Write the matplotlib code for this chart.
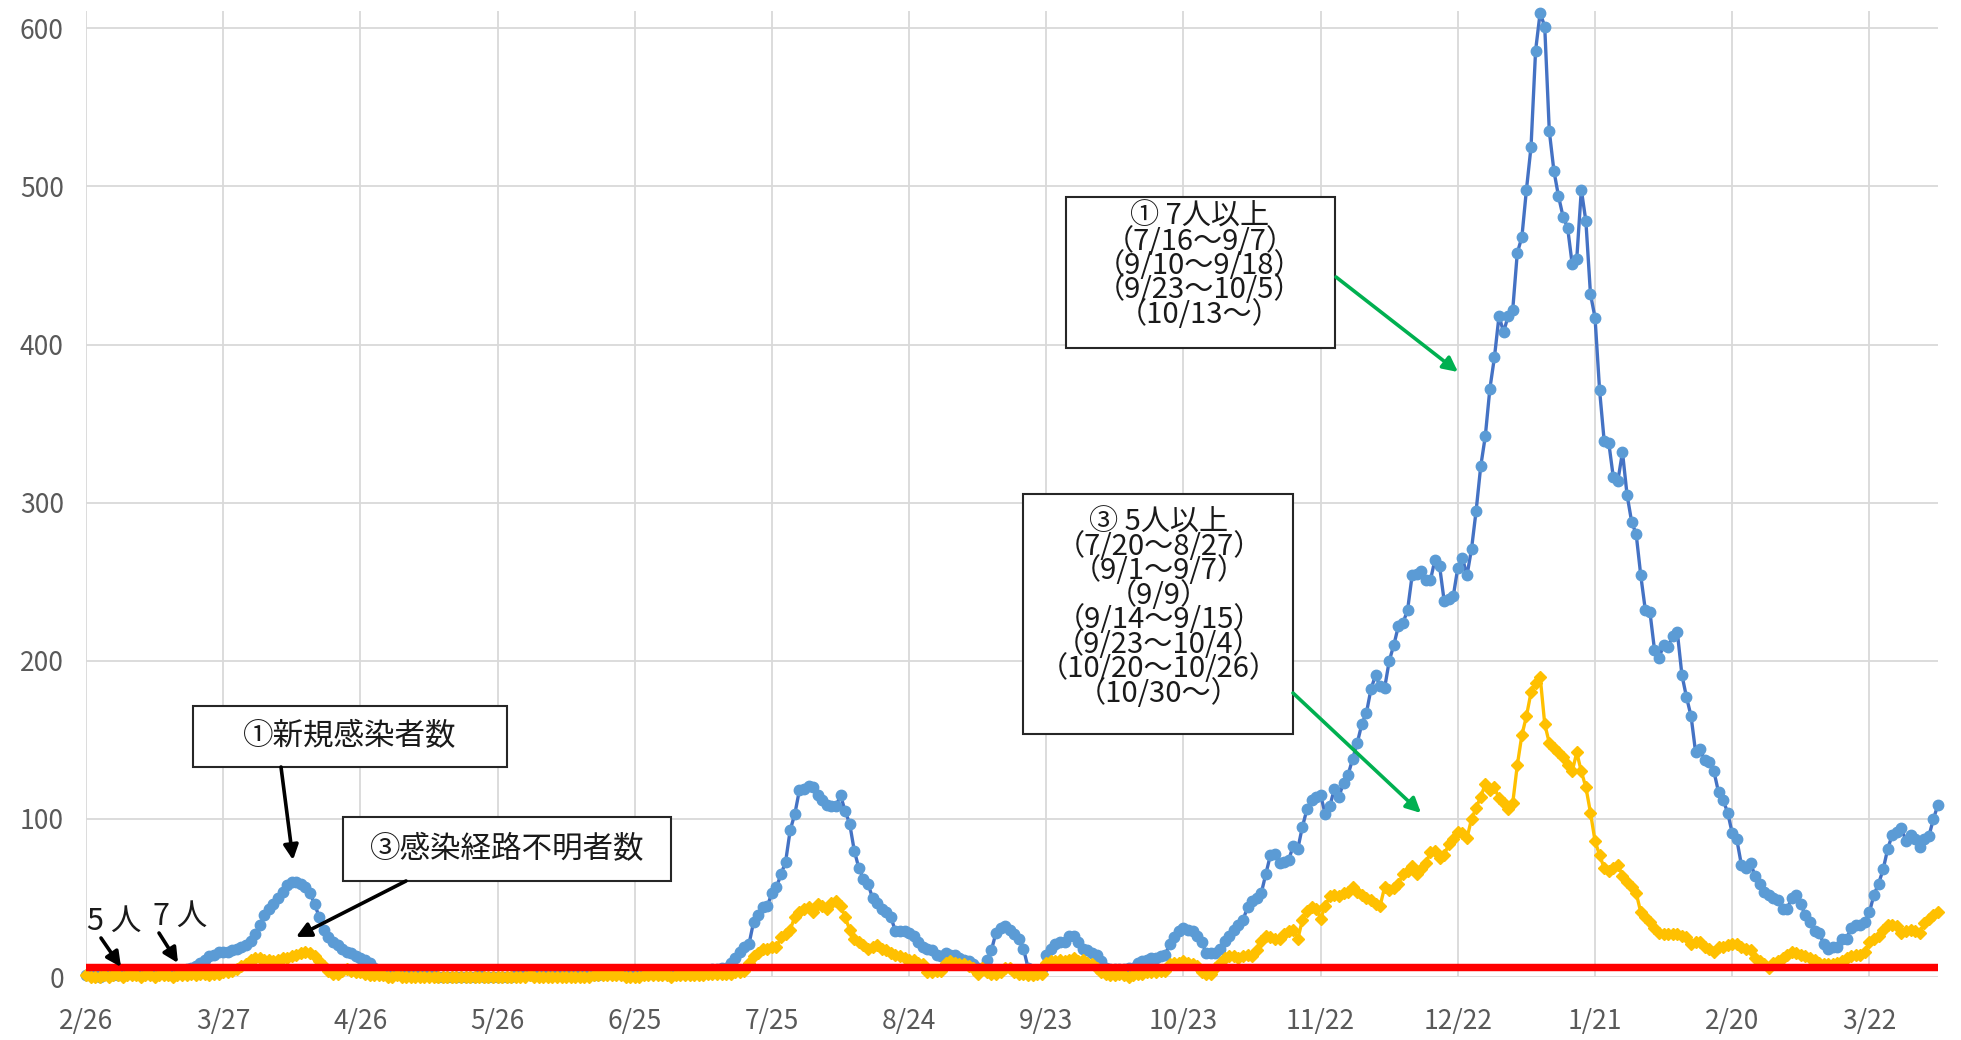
import numpy as np
import pandas as pd
import matplotlib
matplotlib.use("Agg")
import matplotlib.pyplot as plt
from matplotlib.patches import Rectangle, FancyArrowPatch

# 日次データ 2020/2/26 から (1日1点)
start_date = "2020-02-26"

# ①新規感染者数
new_cases = [
    1, 1, 1, 0, 1, 1, 1, 1, 1, 2,
    2, 2, 2, 2, 2, 3, 3, 3, 3, 3,
    3, 4, 5, 6, 7, 9, 11, 13, 14, 16,
    16, 16, 17, 18, 19, 20, 23, 27, 33, 39,
    43, 46, 50, 54, 58, 60, 60, 59, 57, 53,
    46, 38, 30, 25, 22, 20, 18, 16, 15, 13,
    12, 11, 9, 6, 4, 3, 2, 2, 2, 1,
    1, 1, 1, 1, 1, 1, 1, 0, 0, 0,
    0, 0, 0, 0, 0, 0, 1, 0, 0, 0,
    0, 0, 0, 0, 1, 1, 1, 1, 1, 1,
    1, 1, 1, 1, 1, 1, 1, 1, 1, 1,
    1, 1, 1, 2, 2, 2, 2, 2, 2, 2,
    2, 2, 2, 2, 2, 2, 2, 2, 2, 2,
    2, 2, 3, 3, 3, 4, 4, 5, 5, 6,
    6, 9, 12, 16, 19, 21, 35, 39, 44, 45,
    53, 57, 65, 73, 93, 103, 118, 119, 121, 120,
    115, 112, 109, 108, 108, 115, 105, 97, 80, 69,
    62, 59, 50, 47, 43, 41, 38, 29, 29, 29,
    28, 26, 22, 19, 18, 17, 14, 13, 15, 14,
    14, 12, 11, 10, 8, 6, 6, 11, 17, 28,
    31, 32, 30, 27, 24, 18, 6, 4, 4, 5,
    14, 18, 21, 22, 22, 26, 26, 22, 18, 17,
    15, 14, 10, 6, 5, 5, 5, 5, 6, 6,
    9, 10, 11, 12, 12, 13, 14, 21, 25, 29,
    31, 30, 29, 26, 22, 15, 15, 15, 18, 23,
    26, 30, 33, 36, 44, 48, 50, 53, 65, 77,
    78, 72, 73, 74, 83, 81, 95, 106, 112, 114,
    115, 103, 108, 119, 114, 123, 128, 138, 148, 160,
    167, 182, 191, 184, 183, 200, 210, 222, 224, 232,
    254, 255, 257, 251, 251, 264, 260, 238, 239, 241,
    259, 265, 254, 271, 295, 323, 342, 372, 392, 418,
    408, 418, 422, 458, 468, 498, 525, 586, 610, 601,
    535, 510, 494, 481, 474, 451, 454, 498, 478, 432,
    417, 371, 339, 338, 316, 314, 332, 305, 288, 280,
    254, 232, 231, 207, 202, 210, 209, 216, 218, 191,
    177, 165, 142, 144, 137, 136, 130, 117, 112, 104,
    91, 87, 71, 69, 72, 64, 59, 54, 52, 50,
    49, 43, 43, 50, 52, 46, 39, 35, 29, 28,
    21, 18, 19, 19, 24, 24, 31, 33, 33, 35,
    41, 52, 59, 68, 81, 90, 92, 94, 86, 90,
    87, 82, 87, 89, 100, 109,
]

# ③感染経路不明者数
unknown_route = [
    1, 0, 0, 0, 1, 0, 1, 1, 0, 1,
    1, 1, 0, 1, 1, 0, 1, 1, 1, 0,
    1, 1, 1, 2, 1, 2, 2, 1, 2, 2,
    3, 3, 4, 5, 7, 8, 11, 12, 12, 11,
    11, 10, 11, 12, 12, 13, 14, 15, 16, 15,
    13, 10, 7, 4, 2, 2, 4, 5, 4, 3,
    3, 2, 1, 1, 1, 1, 0, 0, 1, 0,
    0, 0, 0, 0, 0, 0, 0, 0, 0, 0,
    0, 0, 0, 0, 0, 0, 0, 0, 0, 0,
    0, 0, 0, 0, 0, 0, 0, 1, 0, 0,
    0, 0, 0, 0, 0, 0, 0, 0, 0, 0,
    0, 1, 1, 1, 1, 1, 1, 1, 0, 0,
    0, 0, 1, 1, 1, 1, 1, 1, 0, 1,
    1, 1, 1, 1, 1, 1, 2, 2, 2, 2,
    2, 2, 3, 3, 4, 9, 13, 15, 18, 18,
    19, 19, 25, 27, 30, 38, 41, 43, 44, 41,
    46, 45, 43, 47, 48, 45, 38, 30, 24, 22,
    20, 18, 19, 20, 18, 17, 15, 14, 13, 12,
    11, 11, 9, 8, 3, 3, 4, 4, 9, 10,
    9, 8, 8, 7, 6, 2, 6, 3, 2, 2,
    3, 6, 6, 3, 2, 2, 1, 1, 2, 2,
    9, 10, 10, 11, 10, 11, 12, 10, 11, 9,
    8, 6, 3, 2, 1, 1, 2, 1, 0, 1,
    2, 2, 3, 3, 3, 4, 4, 8, 9, 9,
    10, 9, 8, 7, 3, 2, 2, 6, 9, 12,
    13, 13, 12, 13, 14, 13, 17, 23, 26, 25,
    24, 24, 27, 29, 30, 24, 36, 42, 44, 43,
    37, 45, 51, 52, 51, 53, 54, 57, 54, 52,
    50, 49, 46, 45, 57, 55, 56, 59, 65, 67,
    70, 65, 68, 72, 79, 80, 75, 77, 84, 87,
    92, 91, 88, 100, 107, 114, 122, 118, 120, 113,
    110, 106, 110, 134, 153, 165, 180, 186, 190, 160,
    148, 145, 142, 139, 134, 130, 142, 130, 120, 104,
    86, 77, 69, 67, 69, 71, 64, 60, 57, 53,
    41, 38, 35, 31, 28, 27, 27, 27, 27, 26,
    25, 21, 22, 22, 19, 18, 16, 19, 19, 20,
    21, 21, 19, 18, 17, 12, 10, 8, 6, 9,
    10, 12, 14, 16, 15, 14, 13, 12, 11, 9,
    8, 8, 8, 9, 10, 12, 13, 14, 14, 16,
    22, 24, 26, 30, 33, 33, 32, 28, 29, 30,
    29, 28, 34, 37, 39, 41,
]

# 基準線 (5人, 7人)
thresholds = [5, 7]
y_ticks = [0, 100, 200, 300, 400, 500, 600]

JP = ["Noto Sans CJK JP", "DejaVu Sans"]
plt.rcParams["font.family"] = JP

W, H = 1961, 1040


def fig_xy(x, y):
    # 画像のピクセル位置 -> figure 座標
    return (x / W, 1 - y / H)


def main():
    fig = plt.figure(figsize=(W / 100, H / 100), dpi=100)
    ax = fig.add_axes([86 / W, 1 - 977 / H, (1938 - 86) / W, (977 - 11) / H])

    dates = pd.date_range(start_date, periods=len(new_cases), freq="D")

    ax.plot(dates, new_cases, color="#4472C4", lw=2.4, marker="o", ms=7.5,
            mfc="#5B9BD5", mec="#5B9BD5", zorder=2, clip_on=False)
    ax.plot(dates, unknown_route, color="#FFC000", lw=2.4, marker="D", ms=6,
            mfc="#FFC000", mec="#FFC000", zorder=3, clip_on=False)
    for t in thresholds:
        ax.axhline(t, color="#FF0000", lw=3.2, zorder=4)

    ax.set_xlim(dates[0], dates[-1])
    ax.set_ylim(0, 611)
    ticks = dates[::30]
    ax.set_xticks(ticks)
    ax.set_xticklabels([f"{d.month}/{d.day}" for d in ticks])
    ax.set_yticks(y_ticks)
    ax.tick_params(length=0, labelsize=19, labelcolor="#595959")
    ax.tick_params(axis="x", pad=22)
    ax.tick_params(axis="y", pad=16)
    ax.grid(True, color="#D9D9D9", lw=1.3)
    ax.set_axisbelow(True)
    for s in ax.spines.values():
        s.set_visible(False)

    # テキストボックス
    def box(x0, y0, x1, y1):
        r = Rectangle(fig_xy(x0, y1), (x1 - x0) / W, (y1 - y0) / H,
                      transform=fig.transFigure, facecolor="white",
                      edgecolor="#262626", lw=1.5, zorder=5)
        fig.add_artist(r)

    def arrow(p0, p1, color="black"):
        a = FancyArrowPatch(fig_xy(*p0), fig_xy(*p1), transform=fig.transFigure,
                            arrowstyle="-|>", mutation_scale=22, lw=2.6,
                            color=color, zorder=6, shrinkA=0, shrinkB=0)
        fig.add_artist(a)

    box(193, 706, 507, 767)
    fig.text(*fig_xy(350, 737), "①新規感染者数", fontsize=22, ha="center",
             va="center", color="#1a1a1a", zorder=7)
    arrow((281, 767), (293, 860))

    box(343, 817, 671, 881)
    fig.text(*fig_xy(507, 850), "③感染経路不明者数", fontsize=22, ha="center",
             va="center", color="#1a1a1a", zorder=7)
    arrow((406, 881), (296, 937))

    fig.text(*fig_xy(114, 921), "5 人", fontsize=22, ha="center", va="center",
             color="#1a1a1a")
    fig.text(*fig_xy(180, 916), "7 人", fontsize=22, ha="center", va="center",
             color="#1a1a1a")
    arrow((101, 938), (121, 967))
    arrow((159, 933), (178, 963))

    box(1066, 197, 1335, 348)
    fig.text(*fig_xy(1200, 266),
             "① 7人以上\n（7/16〜9/7）\n（9/10〜9/18）\n（9/23〜10/5）\n（10/13〜）",
             fontsize=21, ha="center", va="center", linespacing=0.76,
             color="#1a1a1a", zorder=7)
    arrow((1336, 277), (1458, 372), color="#00B050")

    box(1023, 494, 1293, 734)
    fig.text(*fig_xy(1159, 608),
             "③ 5人以上\n（7/20〜8/27）\n（9/1〜9/7）\n（9/9）\n（9/14〜9/15）\n"
             "（9/23〜10/4）\n（10/20〜10/26）\n（10/30〜）",
             fontsize=21, ha="center", va="center", linespacing=0.76,
             color="#1a1a1a", zorder=7)
    arrow((1293, 693), (1421, 813), color="#00B050")

    fig.savefig("out.png", dpi=100, facecolor="white")


if __name__ == "__main__":
    main()
